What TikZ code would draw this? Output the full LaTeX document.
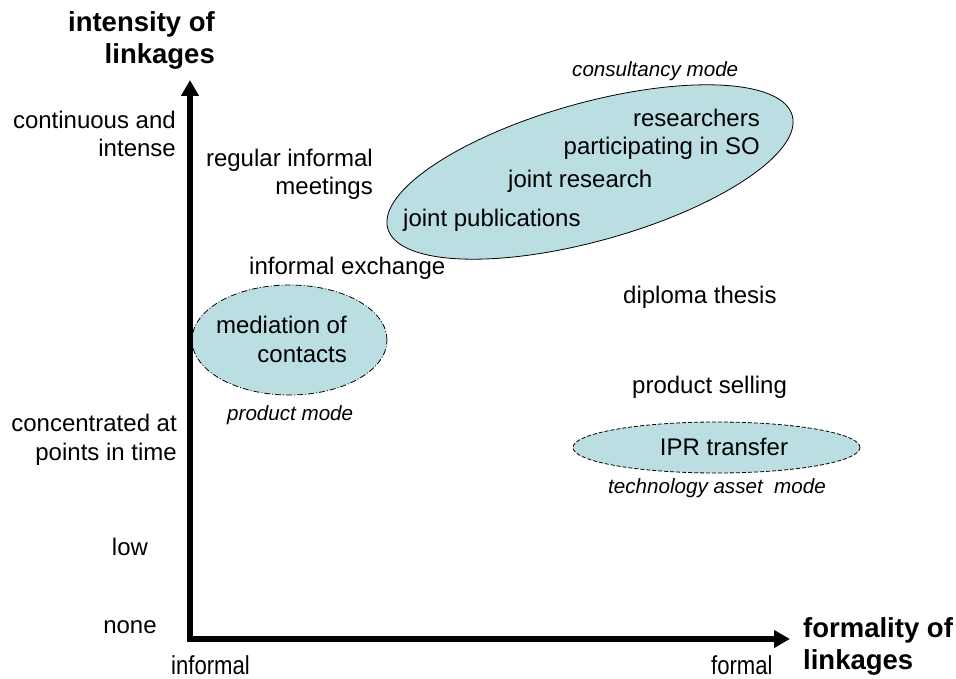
\documentclass[tikz,border=0pt]{standalone}
\usepackage{fontspec}
\setmainfont{Liberation Sans}
\newfontfamily\narrowfont[FakeStretch=0.85]{Liberation Sans}
\usetikzlibrary{shapes.geometric,arrows.meta}
\definecolor{modefill}{RGB}{186,222,226}
\begin{document}
\begin{tikzpicture}[x=1pt,y=-1pt,
  txt/.style={inner sep=0pt, font=\fontsize{24}{28.5}\selectfont},
  ital/.style={inner sep=0pt, font=\fontsize{20.6}{24}\selectfont\itshape},
  axlabel/.style={inner sep=0pt, font=\fontsize{27.5}{32}\selectfont\bfseries},
  endlabel/.style={inner sep=0pt, font=\fontsize{26}{30}\selectfont\narrowfont},
  modeell/.style={ellipse, draw=black, fill=modefill, inner sep=0pt, line width=0.8pt},
  axis/.style={line width=5.5pt, line join=miter,
    {Triangle[length=16pt,width=17pt]}-{Triangle[length=16pt,width=17pt]}}]
\useasboundingbox (0,0) rectangle (956,679);

% mode ellipses
\node[modeell, rotate=15.6, minimum width=420, minimum height=138] (consell) at (590,172) {};
\node[modeell, dash pattern=on 6pt off 2pt on 1pt off 2pt, minimum width=195, minimum height=110] (prodell) at (289.5,340) {};
\node[modeell, dash pattern=on 4pt off 2pt, minimum width=287, minimum height=51] (techell) at (716.5,447.5) {};

% axes
\coordinate (ytop) at (190,80);
\coordinate (origin) at (190,639);
\coordinate (xend) at (790,639);
\draw[axis] (ytop) -- (origin) -- (xend);

% axis titles (base = baseline of last line)
\node[axlabel, align=right, anchor=base east] (ytitle) at (215,64) {intensity of\\linkages};
\node[axlabel, align=left, anchor=base west] (xtitle) at (803,669) {formality of\\linkages};

% y-axis levels
\node[txt, align=right, anchor=base east] (ycont) at (176,157) {continuous and\\intense};
\node[txt, align=right, anchor=base east] (yconc) at (177,460) {concentrated at\\points in time};
\node[txt, anchor=base] (ylow) at (130,555) {low};
\node[txt, anchor=base] (ynone) at (130,633) {none};

% x-axis ends
\node[endlabel, anchor=base] (xinf) at (210.5,674) {informal};
\node[endlabel, anchor=base west] (xform) at (711,674) {formal};

% linkage items
\node[txt, align=right, anchor=base east] (meet) at (373,195) {regular informal\\meetings};
\node[txt, anchor=base west] (exch) at (249,275) {informal exchange};
\node[txt, align=right, anchor=base east] (medi) at (347,362) {mediation of\\contacts};
\node[txt, align=right, anchor=base east] (resso) at (760,155) {researchers\\participating in SO};
\node[txt, anchor=base west] (jres) at (508,188) {joint research};
\node[txt, anchor=base west] (jpub) at (403,227) {joint publications};
\node[txt, anchor=base west] (dipl) at (623,303) {diploma thesis};
\node[txt, anchor=base west] (sell) at (632,393) {product selling};
\node[txt, anchor=base] (ipr) at (724,455) {IPR transfer};

% mode labels
\node[ital, anchor=base west] (consm) at (572,77) {consultancy mode};
\node[ital, anchor=base west] (prodm) at (227,420) {product mode};
\node[ital, anchor=base west] (techm) at (608,493) {technology asset\ \ mode};
\end{tikzpicture}
\end{document}
